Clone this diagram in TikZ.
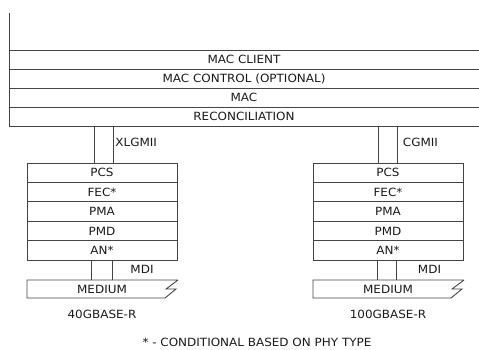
\documentclass[tikz,border=0pt]{standalone}
\usepackage{fontspec}
\setmainfont{DejaVu Sans}[FakeStretch=1.06]
\usetikzlibrary{positioning}
\definecolor{cLine}{HTML}{444444}
\definecolor{cText}{HTML}{1A1A1A}
\tikzset{
  link/.style={draw=cLine, line width=0.9pt},
  mrow/.style={minimum width=470pt, minimum height=19.1pt, inner sep=0pt, outer sep=0pt,
               text=cText, font=\fontsize{11.3}{13}\selectfont},
  phy/.style={link, minimum width=150pt, minimum height=19.4pt, inner sep=0pt, outer sep=0pt,
              text=cText, font=\fontsize{11.3}{13}\selectfont},
  med/.style={minimum width=150pt, minimum height=18pt, inner sep=0pt, outer sep=0pt,
              text=cText, font=\fontsize{11.3}{13}\selectfont},
  tag/.style={text=cText, font=\fontsize{11.3}{13}\selectfont, inner sep=0pt, anchor=west},
}
\begin{document}
\begin{tikzpicture}[x=1pt, y=-1pt]
  \useasboundingbox (0,0) rectangle (479,350);
  \coordinate (top) at (9,13);
  \node[mrow, anchor=north west] (client) at (9,50) {MAC CLIENT};
  \node[mrow, below=0pt of client] (ctrl) {MAC CONTROL (OPTIONAL)};
  \node[mrow, below=0pt of ctrl] (mac) {MAC};
  \node[mrow, below=0pt of mac] (rec) {RECONCILIATION};
  \foreach \r in {client,ctrl,mac,rec}
    \draw[link] (\r.north west) -- (\r.north east);
  \draw[link] (rec.south west) -- (rec.south east);
  \draw[link] (top) -- (rec.south west);

  \node[phy, anchor=north west] (pcsL) at (27,163) {PCS};
  \node[phy, below=0pt of pcsL] (fecL) {FEC*};
  \node[phy, below=0pt of fecL] (pmaL) {PMA};
  \node[phy, below=0pt of pmaL] (pmdL) {PMD};
  \node[phy, below=0pt of pmdL] (anL) {AN*};
  \node[med, anchor=north west] (medL) at (27,280) {MEDIUM};

  \node[phy, anchor=north west] (pcsR) at (313,163) {PCS};
  \node[phy, below=0pt of pcsR] (fecR) {FEC*};
  \node[phy, below=0pt of fecR] (pmaR) {PMA};
  \node[phy, below=0pt of pmaR] (pmdR) {PMD};
  \node[phy, below=0pt of pmdR] (anR) {AN*};
  \node[med, anchor=north west] (medR) at (313,280) {MEDIUM};

  \draw[link] ([xshift=-8pt]pcsL.north |- rec.south) -- ([xshift=-8pt]pcsL.north);
  \draw[link] ([xshift=11pt]pcsL.north |- rec.south) -- ([xshift=11pt]pcsL.north)
    node[tag, pos=0.45, right=2pt] {XLGMII};
  \draw[link] ([xshift=-9.5pt]pcsR.north |- rec.south) -- ([xshift=-9.5pt]pcsR.north);
  \draw[link] ([xshift=9.5pt]pcsR.north |- rec.south) -- ([xshift=9.5pt]pcsR.north)
    node[tag, pos=0.45, right=5pt] {CGMII};

  \draw[link] ([xshift=-11pt]anL.south) -- ([xshift=-11pt]anL.south |- medL.north);
  \draw[link] ([xshift=10pt]anL.south) -- ([xshift=10pt]anL.south |- medL.north)
    node[tag, pos=0.45, right=18pt] {MDI};
  \draw[link] ([xshift=-10.5pt]anR.south) -- ([xshift=-10.5pt]anR.south |- medR.north);
  \draw[link] ([xshift=8.5pt]anR.south) -- ([xshift=8.5pt]anR.south |- medR.north)
    node[tag, pos=0.45, right=21pt] {MDI};

  \foreach \m in {medL,medR}
    \draw[link] ([xshift=1pt]\m.north east) -- (\m.north west) -- (\m.south west)
      -- ([xshift=-12pt]\m.south east) -- ([xshift=-1pt]\m.east)
      -- ([xshift=-11pt]\m.east) -- ([xshift=1pt]\m.north east);

  \node[tag, anchor=north, below=12pt of medL] (nameL) {40GBASE-R};
  \node[tag, anchor=north, below=12pt of medR] (nameR) {100GBASE-R};
  \node[tag, anchor=center] (note) at (257,342) {* - CONDITIONAL BASED ON PHY TYPE};
\end{tikzpicture}
\end{document}
